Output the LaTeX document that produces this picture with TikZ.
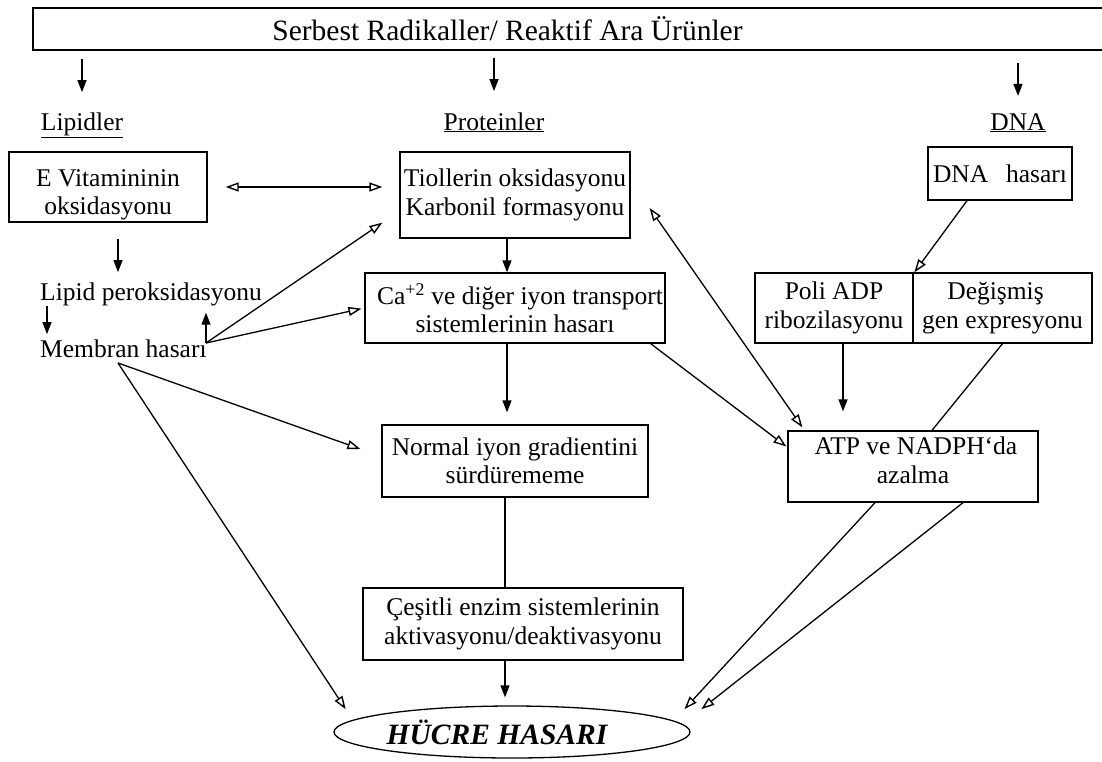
\documentclass[tikz,border=0pt]{standalone}
\usepackage{fontspec}
\setmainfont{Liberation Serif}
\usetikzlibrary{arrows.meta,shapes.geometric,calc}
\begin{document}
\begin{tikzpicture}[x=1pt,y=-1pt,
  txt/.style={font=\fontsize{25.5}{28.5}\selectfont, inner sep=0pt, align=center},
  boxnode/.style={txt, draw, line width=1.3pt},
  con/.style={line width=1.3pt},
  arr/.style={con, -{Triangle[length=12pt,width=9pt]}},
  oarr/.style={con, -{Triangle[open,length=13pt,width=9pt,line width=1.4pt]}},
  darr/.style={con, {Triangle[open,length=13pt,width=9pt,line width=1.4pt]}-{Triangle[open,length=13pt,width=9pt,line width=1.4pt]}},
]
\useasboundingbox (0,0) rectangle (1102,761);

% title
\node[draw, line width=1.4pt, minimum width=1077pt, minimum height=42pt, inner sep=0pt] (titlebox) at (571.5,29) {};
\node[font=\fontsize{29.5}{34}\selectfont, inner sep=0pt] (title) at (507.5,29) {Serbest Radikaller/ Reaktif Ara Ürünler};

% column labels
\node[txt, anchor=base] (lipidler) at (82,130) {\underline{Lipidler}};
\node[txt, anchor=base] (proteinler) at (494,130) {\underline{Proteinler}};
\node[txt, anchor=base] (dna) at (1018,130) {\underline{DNA}};

% boxes
\node[boxnode, minimum width=198pt, minimum height=70pt] (evit) at (108,187)
  {\raisebox{-8pt}[\height][\depth]{\begin{tabular}{@{}c@{}}E Vitamininin\\oksidasyonu\end{tabular}}};
\node[boxnode, minimum width=230pt, minimum height=86pt] (tiol) at (515,195) {Tiollerin oksidasyonu\\Karbonil formasyonu};
\node[boxnode, minimum width=144pt, minimum height=53pt] (dnabox) at (1000,173.5) {DNA\hspace{0.7em}hasarı};
\node[boxnode, minimum width=300pt, minimum height=70pt] (ca) at (515,308) {\hspace*{10pt}Ca\textsuperscript{+2} ve diğer iyon transport\\sistemlerinin hasarı};
\node[boxnode, minimum width=158pt, minimum height=70pt] (poli) at (834,308) {Poli ADP\\ribozilasyonu};
\node[boxnode, minimum width=179pt, minimum height=70pt] (degis) at (1002.5,308) {Değişmiş\hspace*{14pt}\\gen expresyonu};
\node[txt, anchor=base west] (lipidper) at (40,300) {Lipid peroksidasyonu};
\node[txt, anchor=base west] (membran) at (40,357) {Membran hasarı};
\node[boxnode, minimum width=266pt, minimum height=72pt] (normal) at (515,461) {Normal iyon gradientini\\sürdürememe};
\node[boxnode, minimum width=250pt, minimum height=71pt] (atp) at (913,466.5)
  {\raisebox{3pt}[\height][\depth]{\begin{tabular}{@{}c@{}}\hspace*{6pt}ATP ve NADPH`da\\azalma\end{tabular}}};
\node[boxnode, minimum width=320pt, minimum height=72pt] (cesitli) at (523,624) {Çeşitli enzim sistemlerinin\\aktivasyonu/deaktivasyonu};
\node[ellipse, draw, line width=1.3pt, minimum width=356pt, minimum height=52pt, inner sep=0pt,
      font=\fontsize{29.5}{34}\selectfont\bfseries\itshape] (cell) at (512,732) {HÜCRE HASARI\kern30pt};

% hub coordinates
\coordinate (mh) at (206,343);
\coordinate (mb) at (118,363);

% top arrows
\draw[arr, shorten <=8pt, shorten >=20pt] (titlebox.south -| lipidler.north) -- (lipidler.north);
\draw[arr, shorten <=7pt, shorten >=21pt] (titlebox.south -| proteinler.north) -- (proteinler.north);
\draw[arr, shorten <=12pt, shorten >=17pt] (titlebox.south -| dna.north) -- (dna.north);

% lipid column
\draw[darr, shorten <=18pt, shorten >=17pt] (evit.east) -- (evit.east -| tiol.west);
\draw[arr, shorten <=16pt, shorten >=10pt] ([xshift=10pt]evit.south) -- ([xshift=10pt]evit.south |- lipidper.north);
\draw[arr, shorten >=5pt] ([xshift=7pt]lipidper.south west) -- ([xshift=7pt]membran.north west);
\draw[arr, shorten >=7pt] (mh) -- (mh |- lipidper.south);
\draw[oarr] (mh) -- ([xshift=-17pt,yshift=16pt]tiol.south west);
\draw[oarr, shorten >=3pt] (mh) -- (ca.west);
\draw[oarr] (mb) -- ([xshift=-21pt,yshift=12pt]normal.west);
\draw[oarr] (mb) -- ([xshift=-40pt,yshift=4pt]cell.north west);

% protein column
\draw[arr] ([xshift=-8pt]tiol.south) -- ([xshift=-8pt]ca.north);
\draw[arr, shorten >=12pt] ([xshift=-8pt]ca.south) -- ([xshift=-8pt]normal.north);
\draw[con] ([xshift=-10pt]normal.south) -- ([xshift=-10pt]normal.south |- cesitli.north);
\draw[arr, shorten >=8pt] ([xshift=-18pt]cesitli.south) -- ([xshift=-18pt]cesitli.south |- cell.north);
\draw[oarr] ([xshift=-15pt]ca.south east) -- ([xshift=-1pt,yshift=20pt]atp.west);
\draw[darr] ([xshift=19pt,yshift=-13pt]tiol.east) -- ([xshift=15pt,yshift=3pt]atp.north west);

% DNA column
\draw[oarr] ([xshift=-33pt]dnabox.south) -- ([xshift=2pt]degis.north west);
\draw[arr, shorten >=19pt] ([xshift=9pt]poli.south) -- ([xshift=9pt]poli.south |- atp.north);
\draw[con] (degis.south) -- ([xshift=19pt]atp.north);
\draw[oarr] ([xshift=-38pt]atp.south) -- ([xshift=46pt,yshift=4pt]cell.north east);
\draw[oarr] ([xshift=50pt]atp.south) -- ([xshift=63pt,yshift=4pt]cell.north east);
\end{tikzpicture}
\end{document}
